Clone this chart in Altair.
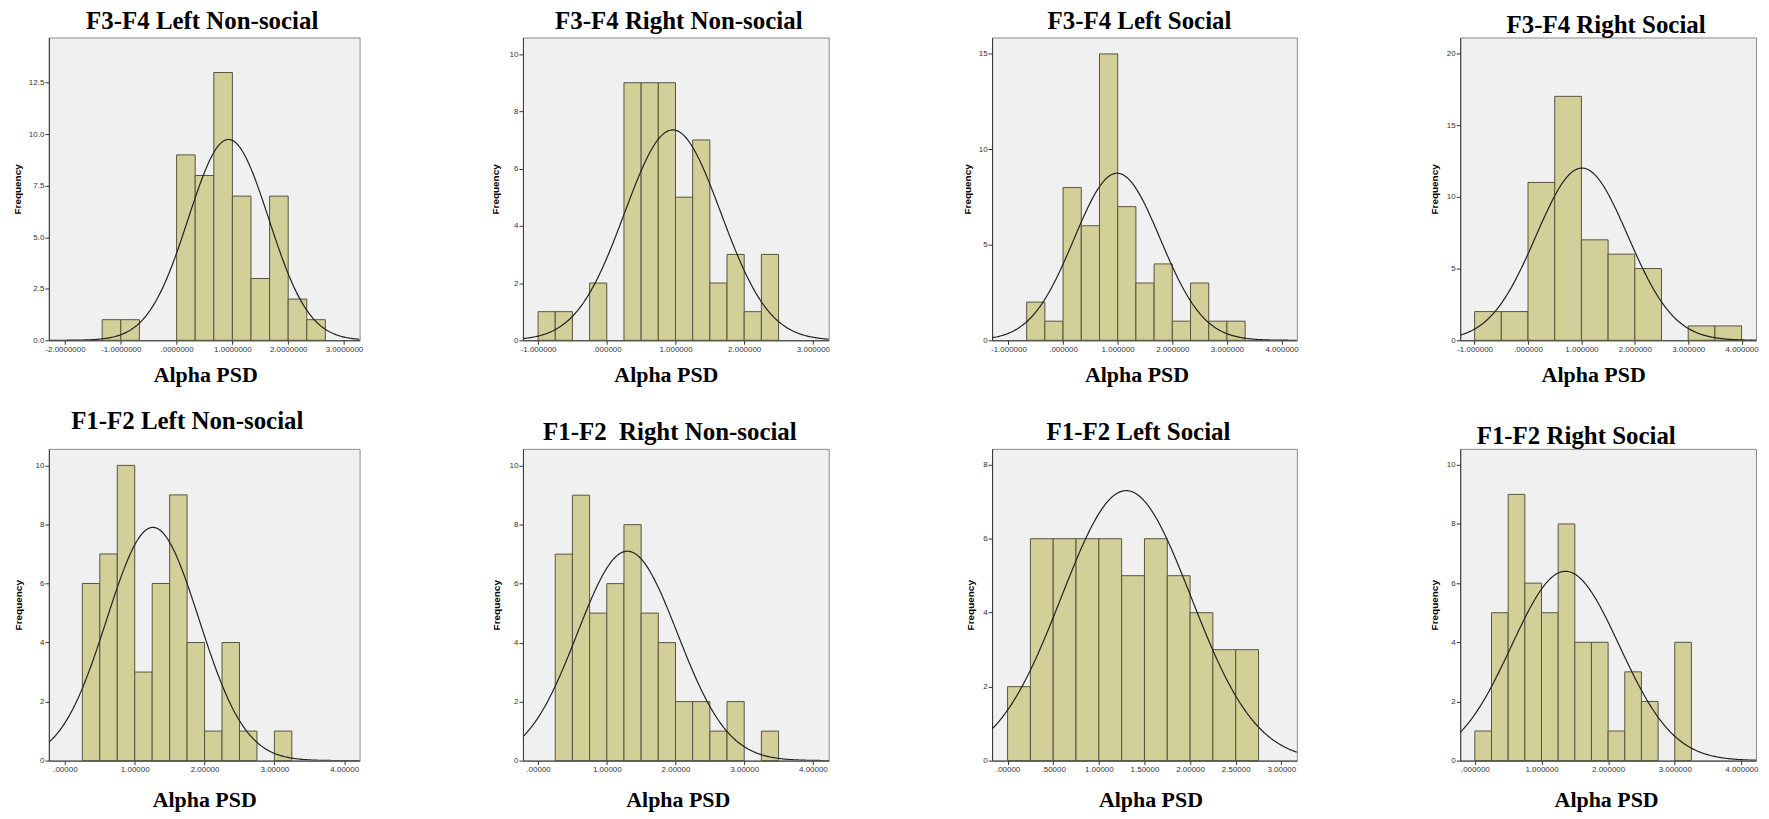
import altair as alt
import numpy as np
import pandas as pd

# ---------------- data ----------------
titles = ["F3-F4 Left Non-social", "F3-F4 Right Non-social", "F3-F4 Left Social", "F3-F4 Right Social",
          "F1-F2 Left Non-social", "F1-F2\u00a0 Right Non-social", "F1-F2 Left Social", "F1-F2 Right Social"]

p1_start = [-1.3333, -1.0, 0.0, 0.3333, 0.6667, 1.0, 1.3333, 1.6667, 2.0, 2.3333]
p1_count = [1, 1, 9, 8, 13, 7, 3, 7, 2, 1]
p2_start = [-1.0, -0.75, -0.25, 0.25, 0.5, 0.75, 1.0, 1.25, 1.5, 1.75, 2.0, 2.25]
p2_count = [1, 1, 2, 9, 9, 9, 5, 7, 2, 3, 1, 3]
p3_start = [-0.6667, -0.3333, 0.0, 0.3333, 0.6667, 1.0, 1.3333, 1.6667, 2.0, 2.3333, 2.6667, 3.0]
p3_count = [2, 1, 8, 6, 15, 7, 3, 4, 1, 3, 1, 1]
p4_start = [-1.0, -0.5, 0.0, 0.5, 1.0, 1.5, 2.0, 3.0, 3.5]
p4_count = [2, 2, 11, 17, 7, 6, 5, 1, 1]
p5_start = [0.25, 0.5, 0.75, 1.0, 1.25, 1.5, 1.75, 2.0, 2.25, 2.5, 3.0]
p5_count = [6, 7, 10, 3, 6, 9, 4, 1, 4, 1, 1]
p6_start = [0.25, 0.5, 0.75, 1.0, 1.25, 1.5, 1.75, 2.0, 2.25, 2.5, 2.75, 3.25]
p6_count = [7, 9, 5, 6, 8, 5, 4, 2, 2, 1, 2, 1]
p7_start = [0.0, 0.25, 0.5, 0.75, 1.0, 1.25, 1.5, 1.75, 2.0, 2.25, 2.5]
p7_count = [2, 6, 6, 6, 6, 5, 6, 5, 4, 3, 3]
p8_start = [0.0, 0.25, 0.5, 0.75, 1.0, 1.25, 1.5, 1.75, 2.0, 2.25, 2.5, 3.0]
p8_count = [1, 5, 9, 6, 5, 8, 4, 4, 1, 3, 2, 4]

bin_widths = [0.3333, 0.25, 0.3333, 0.5, 0.25, 0.25, 0.25, 0.25]
# fitted normal curve: mean, sd, peak height
curve_mean = [0.93, 0.96, 0.99, 1.01, 1.26, 1.30, 1.30, 1.36]
curve_sd = [0.72, 0.70, 0.79, 0.86, 0.66, 0.73, 0.71, 0.81]
curve_peak = [9.75, 7.35, 8.75, 12.0, 7.9, 7.1, 7.3, 6.4]

x_domains = [[-2.29, 3.28], [-1.22, 3.23], [-1.30, 4.28], [-1.27, 4.27],
             [-0.23, 4.22], [-0.22, 4.23], [-0.17, 3.17], [-0.22, 4.22]]
y_max = [14.7, 10.58, 15.86, 21.1, 10.56, 10.57, 8.43, 10.54]

xt1 = [-2, -1, 0, 1, 2, 3]
xl1 = ["-2.0000000", "-1.0000000", ".0000000", "1.0000000", "2.0000000", "3.0000000"]
xt2 = [-1, 0, 1, 2, 3]
xl2 = ["-1.000000", ".000000", "1.000000", "2.000000", "3.000000"]
xt34 = [-1, 0, 1, 2, 3, 4]
xl34 = ["-1.000000", ".000000", "1.000000", "2.000000", "3.000000", "4.000000"]
xt56 = [0, 1, 2, 3, 4]
xl56 = [".00000", "1.00000", "2.00000", "3.00000", "4.00000"]
xt7 = [0, 0.5, 1, 1.5, 2, 2.5, 3]
xl7 = [".00000", ".50000", "1.00000", "1.50000", "2.00000", "2.50000", "3.00000"]
xt8 = [0, 1, 2, 3, 4]
xl8 = [".000000", "1.000000", "2.000000", "3.000000", "4.000000"]

yt1 = [0, 2.5, 5, 7.5, 10, 12.5]
yt_even10 = [0, 2, 4, 6, 8, 10]
yt_five15 = [0, 5, 10, 15]
yt_five20 = [0, 5, 10, 15, 20]
yt_even8 = [0, 2, 4, 6, 8]

starts = [p1_start, p2_start, p3_start, p4_start, p5_start, p6_start, p7_start, p8_start]
counts = [p1_count, p2_count, p3_count, p4_count, p5_count, p6_count, p7_count, p8_count]
x_ticks = [xt1, xt2, xt34, xt34, xt56, xt56, xt7, xt8]
x_labels = [xl1, xl2, xl34, xl34, xl56, xl56, xl7, xl8]
y_ticks = [yt1, yt_even10, yt_five15, yt_five20, yt_even10, yt_even10, yt_even8, yt_even10]
y_formats = [".1f", "d", "d", "d", "d", "d", "d", "d"]

# ---------------- layout (styles only) ----------------
col_widths = [312, 307, 306, 297]
row_heights = [304, 313]
title_offset = [4, 4, 4, 0, 15, 4, 4, 0]
title_dx = [-2, 3, -5, -2, -17, -6, -6, -32]
freq_x = [-26, -23, -20, -21, -25, -22, -17, -21]
alpha_dx = [1, -10, -8, -15, 0, 2, 6, -2]
alpha_y = [41, 41, 41, 41, 46, 46, 46, 46]

BAR_FILL = "#D3CF98"
BAR_STROKE = "#55553f"


def label_expr(vals, labs):
    parts = [f"datum.value == {v} ? '{l}'" for v, l in zip(vals, labs)]
    return " : ".join(parts) + " : ''"


panels = []
for i in range(8):
    bw = bin_widths[i]
    bars_df = pd.DataFrame({
        "start": starts[i],
        "end": [s + bw for s in starts[i]],
        "count": counts[i],
    })
    xs = np.linspace(x_domains[i][0], x_domains[i][1], 300)
    curve_df = pd.DataFrame({
        "x": xs,
        "y": curve_peak[i] * np.exp(-((xs - curve_mean[i]) ** 2) / (2 * curve_sd[i] ** 2)),
    })
    w = col_widths[i % 4]
    h = row_heights[i // 4]

    xscale = alt.Scale(domain=x_domains[i], nice=False, zero=False)
    yscale = alt.Scale(domain=[0, y_max[i]], nice=False, zero=True)

    xaxis = alt.Axis(
        values=x_ticks[i], labelExpr=label_expr(x_ticks[i], x_labels[i]),
        title="Alpha PSD", titleFont="Liberation Serif", titleFontSize=22, titleFontWeight="bold",
        titleColor="black", titleBaseline="alphabetic", titleY=alpha_y[i], titleX=w / 2 + alpha_dx[i],
        grid=False, labelFont="Liberation Sans", labelFontSize=8, labelColor="#333333",
        labelPadding=1, tickSize=4, tickColor="#333333", domainColor="#333333",
        labelFlush=False, labelOverlap=False,
    )
    yaxis = alt.Axis(
        values=y_ticks[i], format=y_formats[i],
        title="Frequency", titleFont="Liberation Sans", titleFontSize=10, titleFontWeight="bold",
        titleColor="black", titleX=freq_x[i],
        grid=False, labelFont="Liberation Sans", labelFontSize=8, labelColor="#333333",
        labelPadding=1, tickSize=4, tickColor="#333333", domainColor="#333333",
    )

    bars = alt.Chart(bars_df).mark_bar(fill=BAR_FILL, stroke=BAR_STROKE, strokeWidth=1).encode(
        x=alt.X("start:Q", scale=xscale, axis=xaxis),
        x2="end:Q",
        y=alt.Y("count:Q", scale=yscale, axis=yaxis),
        y2=alt.datum(0),
    )
    line = alt.Chart(curve_df).mark_line(color="#222222", strokeWidth=1.2, clip=True).encode(
        x=alt.X("x:Q", scale=xscale),
        y=alt.Y("y:Q", scale=yscale),
    )
    panel = alt.layer(bars, line).properties(
        width=w, height=h,
        title=alt.TitleParams(
            text=titles[i], font="Liberation Serif", fontSize=25, fontWeight="bold", color="black",
            anchor="middle", frame="group", offset=title_offset[i], dx=title_dx[i],
        ),
    )
    panels.append(panel)

chart = alt.concat(
    *panels, columns=4, bounds="flush", spacing={"row": 109, "column": 164}
).properties(
    padding={"left": 4, "top": -2, "right": 2, "bottom": 2},
    background="white",
).configure_view(
    fill="#F0F0F0", stroke="#8a8a8a", strokeWidth=1,
)

chart.save("out.html", embed_options={"renderer": "svg", "actions": False})
